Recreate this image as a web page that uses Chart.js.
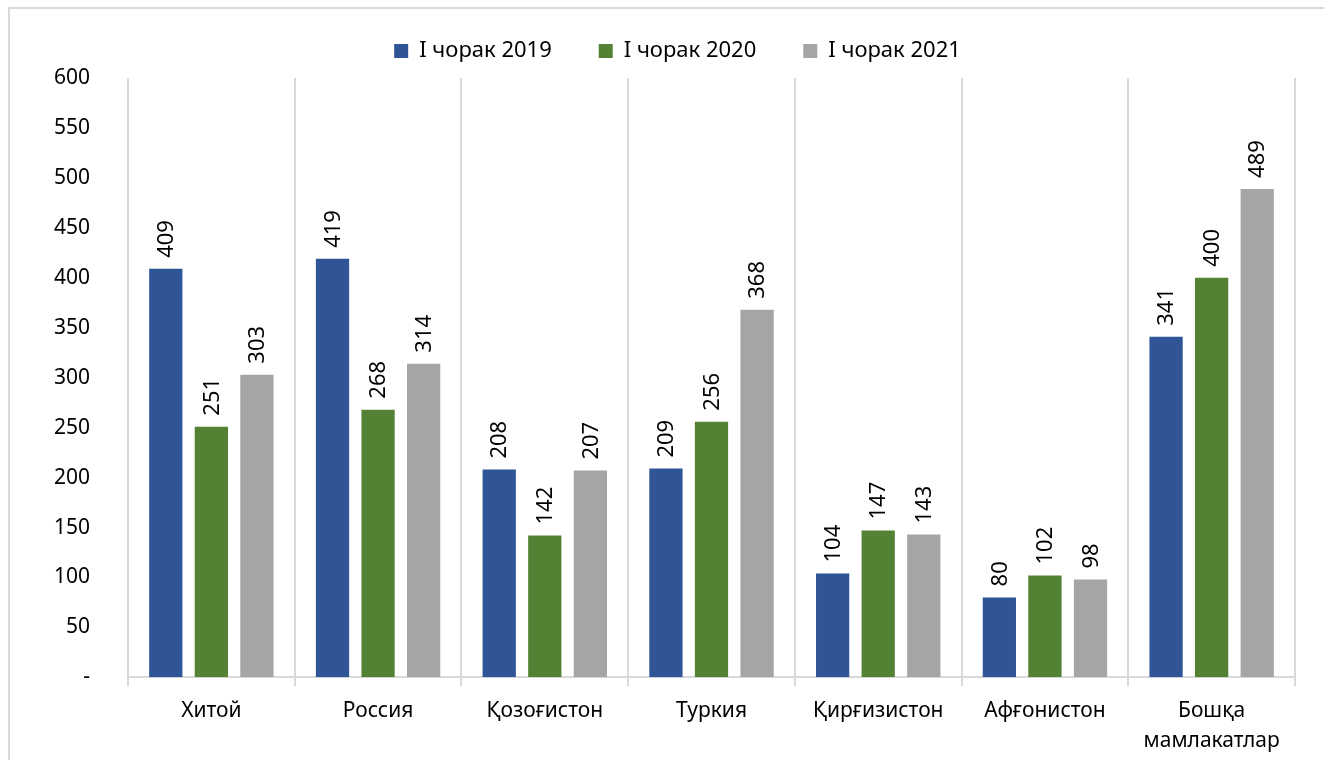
<!DOCTYPE html>
<html>
<head>
<meta charset="utf-8">
<script src="https://cdn.jsdelivr.net/npm/chart.js@4.4.1/dist/chart.umd.min.js"></script>
<style>
  html, body { margin: 0; padding: 0; background: #fff; overflow: hidden; }
  #frame { position: absolute; left: 8px; top: 7px; width: 1400px; height: 800px;
           border-left: 2px solid #d9d9d9; border-top: 2px solid #d9d9d9; }
  #wrap { position: absolute; left: 0; top: 0; width: 1324px; height: 760px; }
</style>
</head>
<body>
<div id="frame"></div>
<div id="wrap"><canvas id="chartEksport"></canvas></div>
<script>
// Ma'lumotlar (rasmdan o'qilgan)
const categories = ['Хитой', 'Россия', 'Қозоғистон', 'Туркия', 'Қирғизистон', 'Афғонистон', ['Бошқа', 'мамлакатлар']];
const seriesNames = ['I чорак 2019', 'I чорак 2020', 'I чорак 2021'];
const q2019 = [409, 419, 208, 209, 104, 80, 341];
const q2020 = [251, 268, 142, 256, 147, 102, 400];
const q2021 = [303, 314, 207, 368, 143, 98, 489];
const yTicks = [0, 50, 100, 150, 200, 250, 300, 350, 400, 450, 500, 550, 600];

const colors = ['#2F5597', '#548235', '#A5A5A5'];
const fontFamily = '"Noto Sans", "DejaVu Sans", sans-serif';

// Vertikal yozilgan qiymatlar (bar ustida)
const verticalLabels = {
    id: 'verticalLabels',
    afterDatasetsDraw(chart) {
        const ctx = chart.ctx;
        ctx.save();
        ctx.font = '22px ' + fontFamily;
        ctx.fillStyle = '#000';
        ctx.textAlign = 'left';
        ctx.textBaseline = 'middle';
        chart.data.datasets.forEach((ds, i) => {
            const meta = chart.getDatasetMeta(i);
            meta.data.forEach((bar, j) => {
                ctx.save();
                ctx.translate(bar.x, bar.y - 11);
                ctx.rotate(-Math.PI / 2);
                ctx.fillText(String(ds.data[j]), 0, 1);
                ctx.restore();
            });
        });
        ctx.restore();
    }
};

// Legendani biroz o'ngga surish (asl rasmdagidek)
const shiftLegend = {
    id: 'shiftLegend',
    afterLayout(chart) {
        if (chart.legend) {
            chart.legend.left += 30;
            chart.legend.right += 30;
        }
    }
};

const datasets = [q2019, q2020, q2021].map((arr, i) => ({
    label: seriesNames[i],
    data: arr,
    backgroundColor: colors[i],
    borderWidth: 0,
    categoryPercentage: 0.82,
    barPercentage: 0.73
}));

new Chart(document.getElementById('chartEksport'), {
    type: 'bar',
    data: { labels: categories, datasets: datasets },
    plugins: [verticalLabels, shiftLegend],
    options: {
        responsive: true,
        maintainAspectRatio: false,
        animation: false,
        layout: { padding: { left: 0, right: 29, top: -7, bottom: -6 } },
        plugins: {
            legend: {
                position: 'top',
                labels: {
                    color: '#000',
                    font: { family: fontFamily, size: 22 },
                    boxWidth: 14,
                    boxHeight: 14,
                    padding: 47
                }
            },
            // legend bilan grafik orasidagi bo'sh joy
            subtitle: {
                display: true,
                text: '',
                position: 'top',
                weight: 500,
                font: { size: 4, lineHeight: 1 },
                padding: { top: 1, bottom: 1 }
            },
            tooltip: { enabled: false }
        },
        scales: {
            x: {
                grid: { offset: true, color: '#d9d9d9', lineWidth: 2, tickLength: 9 },
                border: { display: true, color: '#d9d9d9', width: 2 },
                ticks: {
                    color: '#000',
                    font: { family: fontFamily, size: 21, lineHeight: 1.42 },
                    padding: 10,
                    maxRotation: 0,
                    autoSkip: false
                }
            },
            y: {
                min: 0,
                max: 600,
                afterFit(scale) { scale.width = 128; },
                afterBuildTicks(scale) { scale.ticks = yTicks.map(v => ({ value: v })); },
                grid: { display: false, drawTicks: false },
                border: { display: false },
                ticks: {
                    color: '#000',
                    font: { family: fontFamily, size: 21 },
                    padding: 38,
                    callback: v => (v === 0 ? '-' : v)
                }
            }
        }
    }
});
</script>
</body>
</html>
